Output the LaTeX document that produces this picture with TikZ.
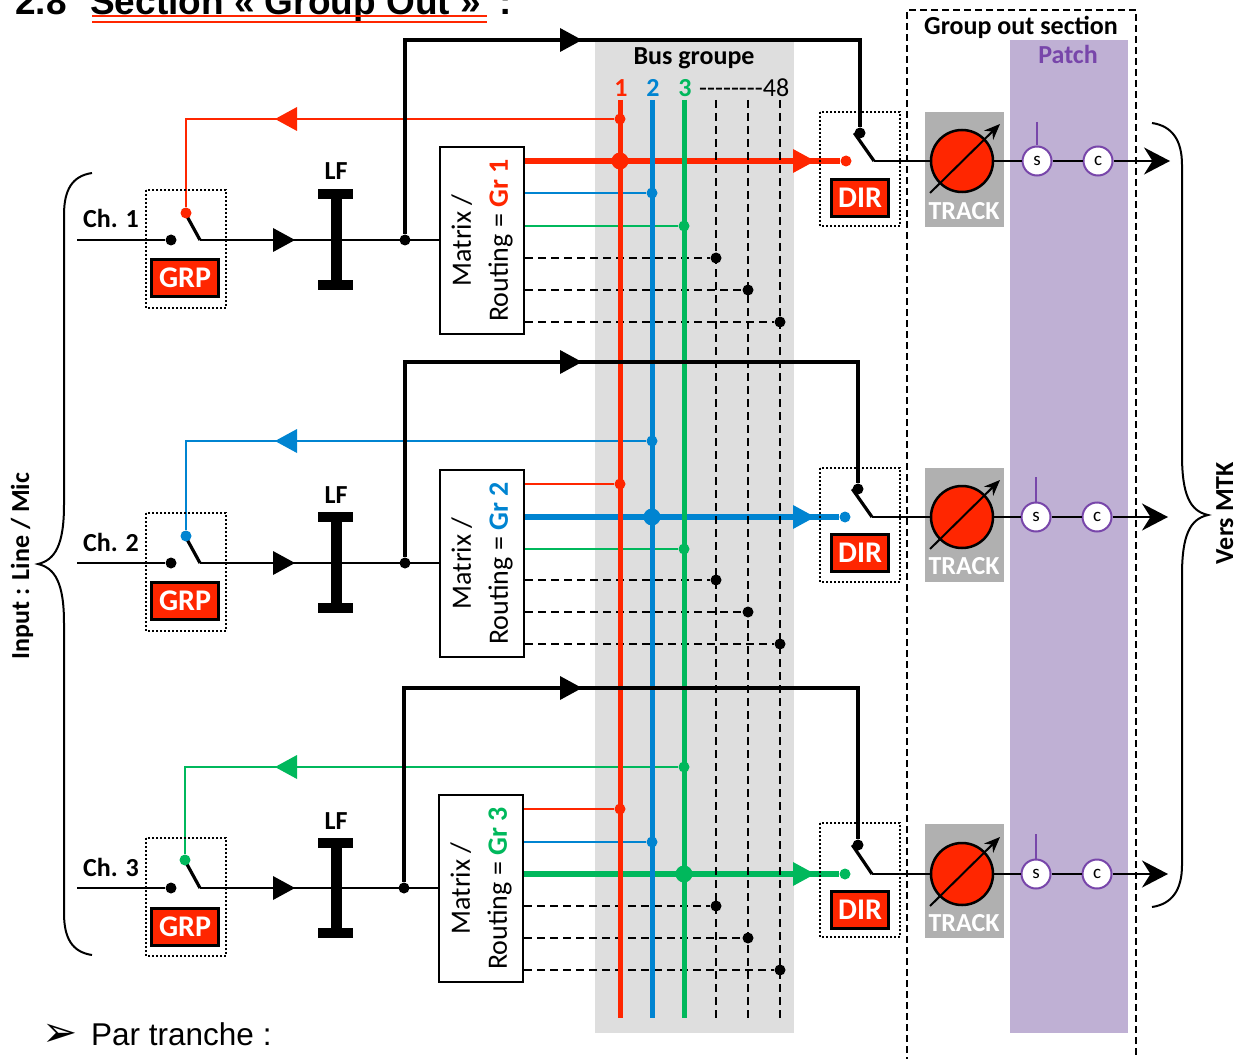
\documentclass[tikz,border=0pt]{standalone}
\usepackage{fontspec}
\setmainfont{Carlito}
\newfontfamily\arialfont{Liberation Sans}
\newfontfamily\bulletfont{DejaVu Sans}
\usetikzlibrary{arrows.meta}
\definecolor{grred}{RGB}{255,38,0}
\definecolor{grblue}{RGB}{0,132,209}
\definecolor{grgreen}{RGB}{0,184,92}
\definecolor{busgray}{RGB}{222,222,222}
\definecolor{trackgray}{RGB}{176,176,176}
\definecolor{patchlilac}{RGB}{191,176,212}
\definecolor{mypurple}{RGB}{120,70,170}
\pgfdeclarelayer{back}
\pgfdeclarelayer{wires}
\pgfsetlayers{back,wires,main}

\begin{document}
\begin{tikzpicture}[x=1pt,y=1pt,yscale=-1,xscale=1,
  jdot/.style={circle,fill,inner sep=0pt,minimum size=11pt},
  bigjdot/.style={circle,fill,inner sep=0pt,minimum size=17pt},
  sig/.style={line width=2pt},
  route/.style={line width=4pt},
  blade/.style={line width=3.2pt},
  busline/.style={line width=5pt},
  thickout/.style={line width=5.5pt},
  dashbus/.style={line width=2pt,dash pattern=on 8pt off 5pt},
  dotbox/.style={draw,line width=2pt,dash pattern=on 2pt off 2pt},
  tag/.style={draw=black,line width=2.5pt,fill=grred,text=white,inner sep=0pt,minimum height=37pt,font=\bfseries\fontsize{30}{30}\selectfont},
  lbl/.style={font=\bfseries\fontsize{26}{28}\selectfont},
  matbox/.style={draw,line width=2pt,minimum width=84pt,minimum height=187pt,inner sep=0pt},
  mattext/.style={rotate=90,align=center,font=\fontsize{28}{37}\selectfont},
  trackcirc/.style={circle,draw,line width=2.5pt,fill=grred,minimum size=62pt,inner sep=0pt},
  tracktxt/.style={text=white,font=\bfseries\fontsize{26}{26}\selectfont},
  patchcirc/.style={circle,draw=mypurple,line width=2pt,fill=white,minimum size=29pt,inner sep=0pt,font=\fontsize{19}{19}\selectfont}
]
\useasboundingbox (0,0) rectangle (1241,1059);

% Backgrounds
\begin{pgfonlayer}{back}
\fill[busgray] (595,40) rectangle (794,1033);
\fill[patchlilac] (1010,40) rectangle (1128,1033);
\fill[trackgray] (925,112) rectangle (1004,227);
\fill[trackgray] (925,468) rectangle (1004,582);
\fill[trackgray] (925,824) rectangle (1004,938);
\end{pgfonlayer}

% Title
\node[inner sep=0pt,anchor=base west,font=\arialfont\bfseries\fontsize{37}{37}\selectfont] (secnum) at (15,15) {2.8};
\node[inner sep=0pt,anchor=base west,font=\arialfont\bfseries\fontsize{37}{37}\selectfont] (sectitle) at (90,15) {Section « Group Out »};
\node[inner sep=0pt,anchor=base west,font=\arialfont\bfseries\fontsize{37}{37}\selectfont] (seccolon) at (499,15) {:};
\draw[grred,line width=1.6pt] (92,16) -- (487,16) (92,22) -- (487,22);

% Group out section
\draw[line width=2pt,dash pattern=on 7pt off 4pt] (907,1075) -- (907,10) -- (1136,10) -- (1136,1075);
\node[lbl,anchor=base] (gos) at (1021,35) {Group out section};
\node[lbl,anchor=base,text=mypurple] (patch) at (1068,64) {Patch};

% Bus groupe
\node[lbl,anchor=base] (busname) at (694,65) {Bus groupe};
\node[lbl,anchor=base,text=grred] (bn1) at (621,97) {1};
\node[lbl,anchor=base,text=grblue] (bn2) at (653,97) {2};
\node[lbl,anchor=base,text=grgreen] (bn3) at (685,97) {3};
\node[anchor=base west,inner sep=0pt,font=\fontsize{26}{26}\selectfont] (bn48) at (699,97) {-{}-{}-{}-{}-{}-{}-{}-48};
\coordinate (bus1) at (620,100); \coordinate (bus1e) at (620,1018);
\coordinate (bus2) at (652,100); \coordinate (bus2e) at (652,1018);
\coordinate (bus3) at (684,100); \coordinate (bus3e) at (684,1018);
\coordinate (bus4) at (716,100); \coordinate (bus4e) at (716,1018);
\coordinate (bus5) at (748,100); \coordinate (bus5e) at (748,1018);
\coordinate (bus6) at (780,100); \coordinate (bus6e) at (780,1018);
\draw[busline,grred] (bus1) -- (bus1e);
\draw[busline,grblue] (bus2) -- (bus2e);
\draw[busline,grgreen] (bus3) -- (bus3e);
\draw[dashbus] (bus4) -- (bus4e);
\draw[dashbus] (bus5) -- (bus5e);
\draw[dashbus] (bus6) -- (bus6e);

% Braces
\draw[line width=2pt] (92,173) .. controls (72,176) and (64,190) .. (64,215) -- (64,505) .. controls (64,545) and (55,560) .. (38,564) .. controls (55,568) and (64,583) .. (64,623) -- (64,913) .. controls (64,938) and (72,952) .. (92,955);
\node[lbl,rotate=90,anchor=base] (input) at (29,566) {Input : Line / Mic};
\draw[line width=2pt] (1152,123) .. controls (1172,126) and (1182,140) .. (1182,165) -- (1182,455) .. controls (1182,495) and (1190,511) .. (1208,515) .. controls (1190,519) and (1182,535) .. (1182,575) -- (1182,865) .. controls (1182,890) and (1172,904) .. (1152,907);
\node[lbl,rotate=90,anchor=base] (mtk) at (1233,513) {Vers MTK};

% ---------- Ch. 1 ----------
\coordinate (in1) at (77,240);
\node[lbl,anchor=base west,inner sep=0pt] (ch1) at (83,228) {Ch. 1};
\node[jdot] (sw1a) at (171,240) {};
\coordinate (sw1b) at (200,240);
\coordinate (sw1c) at (183,209);
\draw[dotbox] (146,190) rectangle (226,308);
\node[tag,minimum width=67pt] (grp1) at (185,278) {GRP};
\node[jdot] (jn1) at (405,240) {};
\node[matbox] (mat1) at (482,240.5) {};
\node[mattext] (mat1txt) at (mat1) {Matrix /\\Routing = \textbf{\textcolor{grred}{Gr 1}}};
\draw[sig] (in1) -- (sw1a);
\draw[sig] (sw1b) -- (mat1.west |- sw1b);
\draw[blade] (sw1c) -- (sw1b);
\fill (295,240) -- ++(-22,-12) -- ++(0,24) -- cycle;
\fill (318,189) rectangle (353,199);
\fill (331,199) rectangle (342,280);
\fill (318,280) rectangle (353,290);
\node[lbl,anchor=base] (lf1) at (336,180) {LF};
\coordinate (top1) at (860,40);
\node[jdot] (dsw1) at (860,133) {};
\draw[route] (jn1) |- (top1) -- (dsw1);
\fill (582,40) -- ++(-22,-12) -- ++(0,24) -- cycle;
\draw[dotbox] (820,112) rectangle (900,226);
\node[tag,minimum width=57pt] (dir1) at (860,198) {DIR};
\coordinate (dsw1b) at (874,161);
\draw[blade] (dsw1.west) -- (dsw1b);
\node[trackcirc] (trk1) at (962,161) {};
\draw[line width=2pt,-{Stealth[length=16pt,width=13pt]}] (930,193) -- (1000,124);
\node[tracktxt] (trk1txt) at (964,211) {TRACK};
\node[patchcirc] (s1) at (1037,161) {s};
\node[patchcirc] (c1) at (1098,161) {c};
\coordinate (s1top) at (1037,122);
\coordinate (out1) at (1170,161);
\draw[mypurple,line width=2pt] (s1top) -- (s1);
\draw[sig] (dsw1b) -- (trk1);
\draw[sig] (trk1) -- (s1);
\draw[sig] (s1) -- (c1);
\draw[sig,-{Stealth[length=26pt,width=27pt]}] (c1) -- (out1);
\node[bigjdot,grred] (x11) at (620,161) {};
\node[jdot,grblue] (x12) at (652,193) {};
\node[jdot,grgreen] (x13) at (684,226) {};
\node[jdot] (x14) at (716,258) {};
\node[jdot] (x15) at (748,290) {};
\node[jdot] (x16) at (780,322) {};
\node[jdot,grred] (d1) at (846,161) {};
\node[jdot,grred] (fbt1) at (620,119) {};
\node[jdot,grred] (fb1) at (186,213) {};
\begin{pgfonlayer}{wires}
\draw[thickout,grred] (mat1.east |- x11) -- (d1);
\fill[grred] (815,161) -- ++(-22,-12) -- ++(0,24) -- cycle;
\draw[sig,grblue] (mat1.east |- x12) -- (x12);
\draw[sig,grgreen] (mat1.east |- x13) -- (x13);
\draw[dashbus] (mat1.east |- x14) -- (x14);
\draw[dashbus] (mat1.east |- x15) -- (x15);
\draw[dashbus] (mat1.east |- x16) -- (x16);
\draw[sig,grred] (fbt1) -| (fb1);
\fill[grred] (275,119) -- ++(22,-12) -- ++(0,24) -- cycle;
\end{pgfonlayer}

% ---------- Ch. 2 ----------
\coordinate (in2) at (77,563);
\node[lbl,anchor=base west,inner sep=0pt] (ch2) at (83,551) {Ch. 2};
\node[jdot] (sw2a) at (171,563) {};
\coordinate (sw2b) at (200,563);
\coordinate (sw2c) at (183,532);
\draw[dotbox] (146,513) rectangle (226,631);
\node[tag,minimum width=67pt] (grp2) at (185,601) {GRP};
\node[jdot] (jn2) at (405,563) {};
\node[matbox] (mat2) at (482,563.5) {};
\node[mattext] (mat2txt) at (mat2) {Matrix /\\Routing = \textbf{\textcolor{grblue}{Gr 2}}};
\draw[sig] (in2) -- (sw2a);
\draw[sig] (sw2b) -- (mat2.west |- sw2b);
\draw[blade] (sw2c) -- (sw2b);
\fill (295,563) -- ++(-22,-12) -- ++(0,24) -- cycle;
\fill (318,512) rectangle (353,522);
\fill (331,522) rectangle (342,603);
\fill (318,603) rectangle (353,613);
\node[lbl,anchor=base] (lf2) at (336,503) {LF};
\coordinate (top2) at (858,362);
\node[jdot] (dsw2) at (858,489) {};
\draw[route] (jn2) |- (top2) -- (dsw2);
\fill (582,362) -- ++(-22,-12) -- ++(0,24) -- cycle;
\draw[dotbox] (820,468) rectangle (900,582);
\node[tag,minimum width=57pt] (dir2) at (860,553) {DIR};
\coordinate (dsw2b) at (872,517);
\draw[blade] (dsw2.west) -- (dsw2b);
\node[trackcirc] (trk2) at (962,517) {};
\draw[line width=2pt,-{Stealth[length=16pt,width=13pt]}] (930,549) -- (1000,480);
\node[tracktxt] (trk2txt) at (964,566) {TRACK};
\node[patchcirc] (s2) at (1036,517) {s};
\node[patchcirc] (c2) at (1097,517) {c};
\coordinate (s2top) at (1036,477);
\coordinate (out2) at (1168,517);
\draw[mypurple,line width=2pt] (s2top) -- (s2);
\draw[sig] (dsw2b) -- (trk2);
\draw[sig] (trk2) -- (s2);
\draw[sig] (s2) -- (c2);
\draw[sig,-{Stealth[length=26pt,width=27pt]}] (c2) -- (out2);
\node[jdot,grred] (x21) at (620,484) {};
\node[bigjdot,grblue] (x22) at (652,517) {};
\node[jdot,grgreen] (x23) at (684,549) {};
\node[jdot] (x24) at (716,580) {};
\node[jdot] (x25) at (748,612) {};
\node[jdot] (x26) at (780,644) {};
\node[jdot,grblue] (d2) at (845,517) {};
\node[jdot,grblue] (fbt2) at (652,441) {};
\node[jdot,grblue] (fb2) at (186,536) {};
\begin{pgfonlayer}{wires}
\draw[sig,grred] (mat2.east |- x21) -- (x21);
\draw[thickout,grblue] (mat2.east |- x22) -- (d2);
\fill[grblue] (815,517) -- ++(-22,-12) -- ++(0,24) -- cycle;
\draw[sig,grgreen] (mat2.east |- x23) -- (x23);
\draw[dashbus] (mat2.east |- x24) -- (x24);
\draw[dashbus] (mat2.east |- x25) -- (x25);
\draw[dashbus] (mat2.east |- x26) -- (x26);
\draw[sig,grblue] (fbt2) -| (fb2);
\fill[grblue] (275,441) -- ++(22,-12) -- ++(0,24) -- cycle;
\end{pgfonlayer}

% ---------- Ch. 3 ----------
\coordinate (in3) at (77,888);
\node[lbl,anchor=base west,inner sep=0pt] (ch3) at (83,876) {Ch. 3};
\node[jdot] (sw3a) at (171,888) {};
\coordinate (sw3b) at (200,888);
\coordinate (sw3c) at (183,857);
\draw[dotbox] (146,838) rectangle (226,956);
\node[tag,minimum width=67pt] (grp3) at (185,927) {GRP};
\node[jdot] (jn3) at (404,888) {};
\node[matbox] (mat3) at (481,888.5) {};
\node[mattext] (mat3txt) at (mat3) {Matrix /\\Routing = \textbf{\textcolor{grgreen}{Gr 3}}};
\draw[sig] (in3) -- (sw3a);
\draw[sig] (sw3b) -- (mat3.west |- sw3b);
\draw[blade] (sw3c) -- (sw3b);
\fill (295,888) -- ++(-22,-12) -- ++(0,24) -- cycle;
\fill (318,838) rectangle (353,848);
\fill (331,848) rectangle (342,928);
\fill (318,928) rectangle (353,938);
\node[lbl,anchor=base] (lf3) at (336,829) {LF};
\coordinate (top3) at (858,688);
\node[jdot] (dsw3) at (858,845) {};
\draw[route] (jn3) |- (top3) -- (dsw3);
\fill (582,688) -- ++(-22,-12) -- ++(0,24) -- cycle;
\draw[dotbox] (820,823) rectangle (900,937);
\node[tag,minimum width=57pt] (dir3) at (860,910) {DIR};
\coordinate (dsw3b) at (872,874);
\draw[blade] (dsw3.west) -- (dsw3b);
\node[trackcirc] (trk3) at (962,874) {};
\draw[line width=2pt,-{Stealth[length=16pt,width=13pt]}] (930,906) -- (1000,837);
\node[tracktxt] (trk3txt) at (964,923) {TRACK};
\node[patchcirc] (s3) at (1036,874) {s};
\node[patchcirc] (c3) at (1097,874) {c};
\coordinate (s3top) at (1036,834);
\coordinate (out3) at (1168,874);
\draw[mypurple,line width=2pt] (s3top) -- (s3);
\draw[sig] (dsw3b) -- (trk3);
\draw[sig] (trk3) -- (s3);
\draw[sig] (s3) -- (c3);
\draw[sig,-{Stealth[length=26pt,width=27pt]}] (c3) -- (out3);
\node[jdot,grred] (x31) at (620,809) {};
\node[jdot,grblue] (x32) at (652,842) {};
\node[bigjdot,grgreen] (x33) at (684,874) {};
\node[jdot] (x34) at (716,906) {};
\node[jdot] (x35) at (748,938) {};
\node[jdot] (x36) at (780,970) {};
\node[jdot,grgreen] (d3) at (845,874) {};
\node[jdot,grgreen] (fbt3) at (684,767) {};
\node[jdot,grgreen] (fb3) at (185,860) {};
\begin{pgfonlayer}{wires}
\draw[sig,grred] (mat3.east |- x31) -- (x31);
\draw[sig,grblue] (mat3.east |- x32) -- (x32);
\draw[thickout,grgreen] (mat3.east |- x33) -- (d3);
\fill[grgreen] (815,874) -- ++(-22,-12) -- ++(0,24) -- cycle;
\draw[dashbus] (mat3.east |- x34) -- (x34);
\draw[dashbus] (mat3.east |- x35) -- (x35);
\draw[dashbus] (mat3.east |- x36) -- (x36);
\draw[sig,grgreen] (fbt3) -| (fb3);
\fill[grgreen] (275,767) -- ++(22,-12) -- ++(0,24) -- cycle;
\end{pgfonlayer}

% Footer
\node[anchor=base west,inner sep=0pt,font=\bulletfont\fontsize{42}{42}\selectfont] (bullet) at (42,1046) {➢};
\node[anchor=base west,inner sep=0pt,font=\arialfont\fontsize{31.5}{32}\selectfont] (partranche) at (91,1045) {Par tranche :};

\end{tikzpicture}
\end{document}
